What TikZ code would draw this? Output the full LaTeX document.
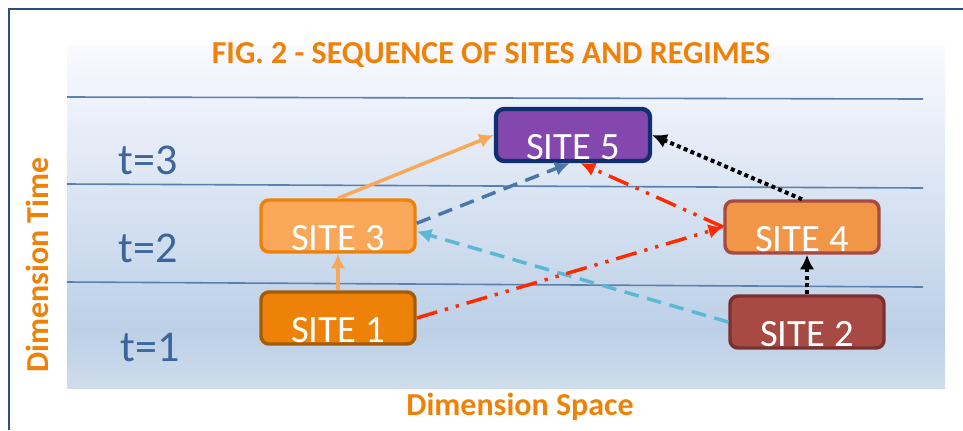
\documentclass[tikz,border=0pt]{standalone}
\usepackage{fontspec}
\setmainfont{Carlito}
\usetikzlibrary{arrows.meta}
\definecolor{frameblue}{HTML}{2C4D7F}
\definecolor{titleorange}{HTML}{EE8209}
\definecolor{lineblue}{HTML}{5A80AD}
\definecolor{tblue}{HTML}{3C669A}
\definecolor{purplefill}{HTML}{8447AE}
\definecolor{navyedge}{HTML}{102F6E}
\definecolor{lightorange}{HTML}{F9A859}
\definecolor{midorange}{HTML}{F19646}
\definecolor{darkorange}{HTML}{A55C09}
\definecolor{brickred}{HTML}{A74A43}
\definecolor{brickedge}{HTML}{7B302D}
\definecolor{steelblue}{HTML}{4A77A8}
\definecolor{skyblue}{HTML}{5BB7D3}
\definecolor{arrowred}{HTML}{FF2A00}

\begin{document}
\begin{tikzpicture}[x=0.75pt, y=-0.75pt,
  site/.style={rounded corners=6pt, line width=2.6pt, inner sep=0pt, text=white,
    minimum width=115.5pt, minimum height=39pt, text height=37pt, text depth=0pt,
    font=\fontsize{29}{29}\selectfont},
  tlabel/.style={text=tblue, font=\fontsize{33}{33}\selectfont},
  dimlabel/.style={text=titleorange, font=\fontsize{24}{24}\selectfont\bfseries},
  arr/.style={-{Latex[length=11pt,width=11pt]}, line width=2.6pt}]

\useasboundingbox (0,0) rectangle (963,430);

% panel and time bands
\shade[top color=blue!2!white, bottom color={rgb,255:red,188;green,208;blue,231}] (67,45) rectangle (945,330);
\shade[top color={rgb,255:red,188;green,208;blue,231}, bottom color={rgb,255:red,207;green,220;blue,236}] (67,330) rectangle (945,388);
\draw[frameblue, line width=1.6pt] (9,430) -- (9,9) -- (963,9);
\draw[lineblue, line width=1.2pt] (67,97) -- (923,99);
\draw[lineblue, line width=1.2pt] (67,184) -- (923,188);
\draw[lineblue, line width=1.2pt] (67,282) -- (923,287);

\node[text=titleorange, font=\fontsize{24}{24}\selectfont\bfseries] at (491,55) (title)
  {FIG. 2 - SEQUENCE OF SITES AND REGIMES};
\node[dimlabel, rotate=90] at (37,265) (dtime) {Dimension Time};
\node[dimlabel] at (520,407) (dspace) {Dimension Space};

\node[tlabel] at (148,160) (t3) {t=3};
\node[tlabel] at (148,248) (t2) {t=2};
\node[tlabel] at (150,347) (t1) {t=1};

\node[site, fill=purplefill, draw=navyedge, line width=3.2pt] at (573,135) (s5) {SITE 5};
\node[site, fill=lightorange, draw=titleorange] at (338,226) (s3) {SITE 3};
\node[site, fill=midorange, draw=brickred] at (802,227) (s4) {SITE 4};
\node[site, fill=titleorange, draw=darkorange] at (338,318) (s1) {SITE 1};
\node[site, fill=brickred, draw=brickedge] at (807,322) (s2) {SITE 2};

\draw[arr, lightorange] (s1) -- (s3); \draw[arr, lightorange] (s3.north) -- (s5.west);
\draw[arr, steelblue, dash pattern=on 11pt off 6.5pt] (s3.2) -- (s5.-97);
\draw[arr, skyblue, dash pattern=on 11pt off 6.5pt] (s2.west) -- (s3.-4);
\draw[arr, arrowred, dash pattern=on 16pt off 6pt on 2.5pt off 6pt on 2.5pt off 6pt] (s1.east) -- (s4.west);
\draw[arr, arrowred, dash pattern=on 16pt off 6pt on 2.5pt off 6pt on 2.5pt off 6pt] (s4.west) -- (s5.-75);
\draw[arr, black, line width=3pt, dash pattern=on 3pt off 2.5pt] (s4.north) -- (s5.east);
\draw[arr, black, line width=3pt, dash pattern=on 3pt off 2.5pt] (s2.north) -- (s2.north |- s4.south);
\end{tikzpicture}
\end{document}
